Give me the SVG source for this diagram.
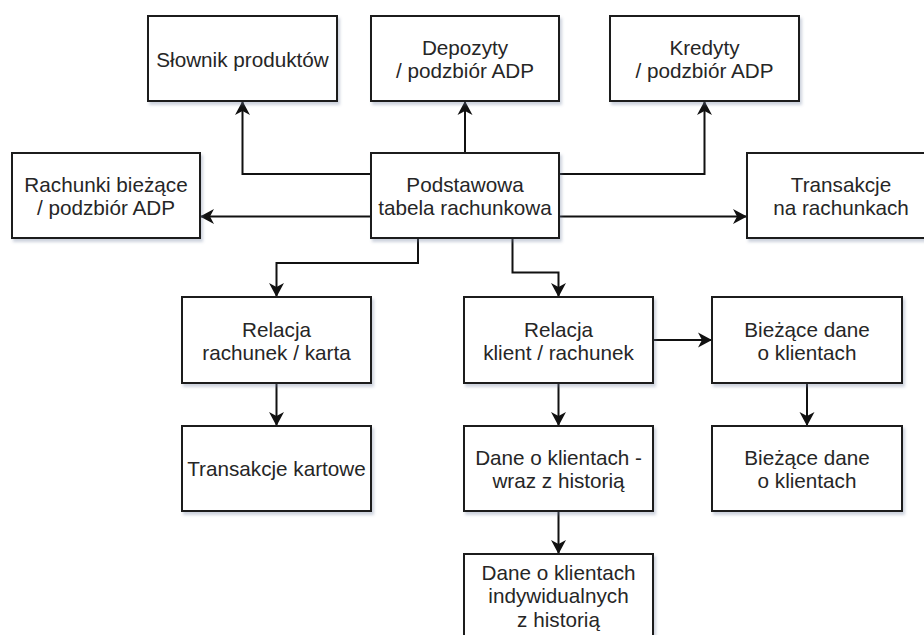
<svg xmlns="http://www.w3.org/2000/svg" width="924" height="635" viewBox="0 0 924 635">
  <style>
    .box { fill: #ffffff; stroke: #1e1e1e; stroke-width: 2; filter: url(#shadow); }
    .lbl { font-family: "Liberation Sans", Arial, sans-serif; font-size: 20.7px; fill: #262626; text-anchor: middle; }
    .edge { fill: none; stroke: #111111; stroke-width: 2; marker-end: url(#arrow); }
  </style>
  <defs>
    <filter id="shadow" x="-10%" y="-10%" width="125%" height="130%">
      <feDropShadow dx="2" dy="3" stdDeviation="1.5" flood-color="#7080a0" flood-opacity="0.35"/>
    </filter>
    <marker id="arrow" markerUnits="userSpaceOnUse" markerWidth="16" markerHeight="16" viewBox="-15 -8 16 16" refX="0" refY="0" orient="auto">
      <path d="M0,0 L-14,-7.5 L-10,0 L-14,7.5 Z" fill="#111111"/>
    </marker>
  </defs>
  <rect width="924" height="635" fill="#ffffff"/>

  <!-- connectors -->
  <g id="connectors">
    <path class="edge" d="M371,174 H242.5 V101"/>
    <path class="edge" d="M465,153 V101"/>
    <path class="edge" d="M559,174 H704.5 V101"/>
    <path class="edge" d="M371,216.5 H200"/>
    <path class="edge" d="M559,216.5 H747"/>
    <path class="edge" d="M418,238 V263 H276.5 V297"/>
    <path class="edge" d="M512.5,238 V272.5 H558.5 V297"/>
    <path class="edge" d="M653,340 H712"/>
    <path class="edge" d="M276.5,383 V426"/>
    <path class="edge" d="M558.5,383 V426"/>
    <path class="edge" d="M807,383 V426"/>
    <path class="edge" d="M558.5,511 V554"/>
  </g>

  <!-- top row -->
  <g id="slownik">
    <rect class="box" x="148" y="16" width="189" height="85"/>
    <text class="lbl" x="242.5" y="66.5">Słownik produktów</text>
  </g>
  <g id="depozyty">
    <rect class="box" x="371" y="16" width="188" height="85"/>
    <text class="lbl" x="465" y="55">Depozyty<tspan x="465" dy="23">/ podzbiór ADP</tspan></text>
  </g>
  <g id="kredyty">
    <rect class="box" x="610" y="16" width="189" height="85"/>
    <text class="lbl" x="704.5" y="55">Kredyty<tspan x="704.5" dy="23">/ podzbiór ADP</tspan></text>
  </g>

  <!-- second row -->
  <g id="rachunki">
    <rect class="box" x="12" y="153" width="188" height="85"/>
    <text class="lbl" x="106" y="192">Rachunki bieżące<tspan x="106" dy="23">/ podzbiór ADP</tspan></text>
  </g>
  <g id="podstawowa">
    <rect class="box" x="371" y="153" width="188" height="85"/>
    <text class="lbl" x="465" y="192">Podstawowa<tspan x="465" dy="23">tabela rachunkowa</tspan></text>
  </g>
  <g id="transakcje-rach">
    <rect class="box" x="747" y="153" width="188" height="85"/>
    <text class="lbl" x="841" y="192">Transakcje<tspan x="841" dy="23">na rachunkach</tspan></text>
  </g>

  <!-- third row -->
  <g id="relacja-karta">
    <rect class="box" x="182" y="297" width="189" height="86"/>
    <text class="lbl" x="276.5" y="336.5">Relacja<tspan x="276.5" dy="23">rachunek / karta</tspan></text>
  </g>
  <g id="relacja-klient">
    <rect class="box" x="464" y="297" width="189" height="86"/>
    <text class="lbl" x="558.5" y="336.5">Relacja<tspan x="558.5" dy="23">klient / rachunek</tspan></text>
  </g>
  <g id="biezace-1">
    <rect class="box" x="712" y="297" width="190" height="86"/>
    <text class="lbl" x="807" y="336.5">Bieżące dane<tspan x="807" dy="23">o klientach</tspan></text>
  </g>

  <!-- fourth row -->
  <g id="transakcje-kart">
    <rect class="box" x="182" y="426" width="189" height="85"/>
    <text class="lbl" x="276.5" y="476">Transakcje kartowe</text>
  </g>
  <g id="dane-historia">
    <rect class="box" x="464" y="426" width="189" height="85"/>
    <text class="lbl" x="558.5" y="465">Dane o klientach -<tspan x="558.5" dy="23">wraz z historią</tspan></text>
  </g>
  <g id="biezace-2">
    <rect class="box" x="712" y="426" width="190" height="85"/>
    <text class="lbl" x="807" y="465">Bieżące dane<tspan x="807" dy="23">o klientach</tspan></text>
  </g>

  <!-- fifth row -->
  <g id="dane-indywidualne">
    <rect class="box" x="464" y="554" width="189" height="86"/>
    <text class="lbl" x="558.5" y="580">Dane o klientach<tspan x="558.5" dy="23.3">indywidualnych</tspan><tspan x="558.5" dy="23.3">z historią</tspan></text>
  </g>
</svg>
